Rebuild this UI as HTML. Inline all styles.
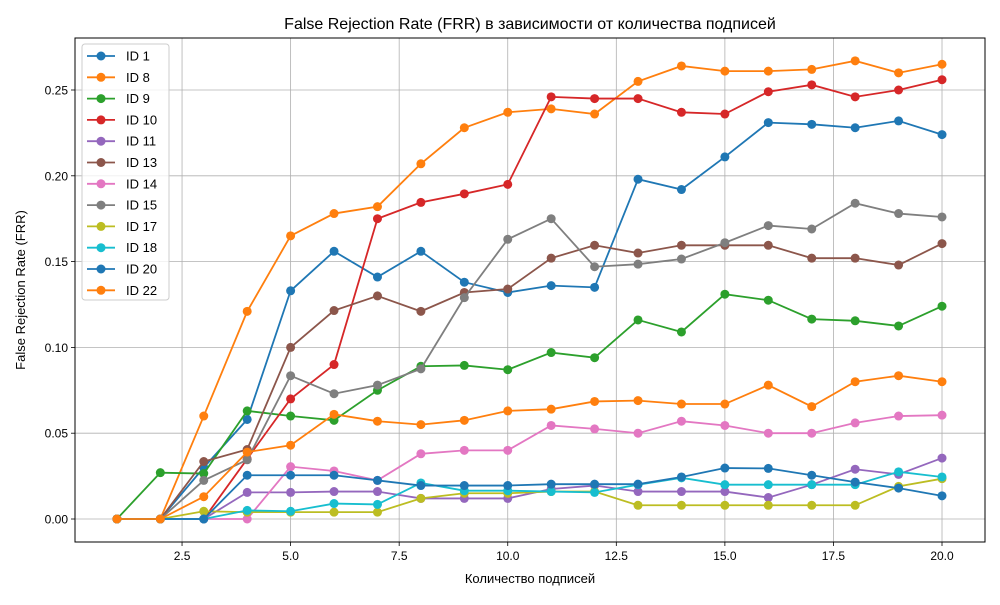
<!DOCTYPE html>
<html><head><meta charset="utf-8"><style>
body{margin:0;background:#fff}
svg{font-family:"Liberation Sans","DejaVu Sans",sans-serif}
</style></head><body>
<svg id="chart" width="1000" height="600" viewBox="0 0 1000 600" xmlns="http://www.w3.org/2000/svg"></svg>
<script>
const seriesNames = ["ID 1","ID 8","ID 9","ID 10","ID 11","ID 13","ID 14","ID 15","ID 17","ID 18","ID 20","ID 22"];
const seriesColors = ["#1f77b4","#ff7f0e","#2ca02c","#d62728","#9467bd","#8c564b","#e377c2","#7f7f7f","#bcbd22","#17becf","#1f77b4","#ff7f0e"];
const xValues = [1,2,3,4,5,6,7,8,9,10,11,12,13,14,15,16,17,18,19,20];
const id1 = [0,0,0.03,0.058,0.133,0.156,0.141,0.156,0.138,0.132,0.136,0.135,0.198,0.192,0.211,0.231,0.230,0.228,0.232,0.224];
const id8 = [0,0,0.060,0.121,0.165,0.178,0.182,0.207,0.228,0.237,0.239,0.236,0.255,0.264,0.261,0.261,0.262,0.267,0.260,0.265];
const id9 = [0,0.027,0.0265,0.063,0.060,0.0575,0.075,0.089,0.0895,0.087,0.097,0.094,0.116,0.109,0.131,0.1275,0.1165,0.1155,0.1125,0.124];
const id10 = [0,0,0,0.035,0.070,0.090,0.175,0.1845,0.1895,0.195,0.246,0.245,0.245,0.237,0.236,0.249,0.253,0.246,0.250,0.256];
const id11 = [0,0,0,0.0155,0.0155,0.016,0.016,0.012,0.012,0.012,0.0175,0.0195,0.016,0.016,0.016,0.0125,0.020,0.029,0.026,0.0355];
const id13 = [0,0,0.0335,0.0405,0.100,0.1215,0.130,0.121,0.132,0.134,0.152,0.1595,0.155,0.1595,0.1595,0.1595,0.152,0.152,0.148,0.1605];
const id14 = [0,0,0,0,0.0305,0.028,0.0225,0.038,0.040,0.040,0.0545,0.0525,0.050,0.057,0.0545,0.050,0.050,0.056,0.060,0.0605];
const id15 = [0,0,0.0225,0.0345,0.0835,0.073,0.078,0.0875,0.129,0.163,0.175,0.147,0.1485,0.1515,0.161,0.171,0.169,0.184,0.178,0.176];
const id17 = [0,0,0.0045,0.004,0.004,0.004,0.004,0.012,0.015,0.015,0.016,0.016,0.008,0.008,0.008,0.008,0.008,0.008,0.019,0.0235];
const id18 = [0,0,0,0.005,0.0045,0.009,0.0085,0.021,0.0165,0.0165,0.016,0.0155,0.020,0.024,0.020,0.020,0.020,0.020,0.0275,0.0245];
const id20 = [0,0,0,0.0255,0.0255,0.0255,0.0225,0.0195,0.0195,0.0195,0.0203,0.0203,0.0203,0.0245,0.0297,0.0295,0.0255,0.0215,0.018,0.0135];
const id22 = [0,0,0.013,0.039,0.043,0.061,0.057,0.055,0.0575,0.063,0.064,0.0685,0.069,0.067,0.067,0.078,0.0655,0.080,0.0835,0.080];
const xTicks = [2.5,5.0,7.5,10.0,12.5,15.0,17.5,20.0];
const xTickLabels = ["2.5","5.0","7.5","10.0","12.5","15.0","17.5","20.0"];
const yTicks = [0,0.05,0.10,0.15,0.20,0.25];
const yTickLabels = ["0.00","0.05","0.10","0.15","0.20","0.25"];

const allSeries = [id1,id8,id9,id10,id11,id13,id14,id15,id17,id18,id20,id22];
const L=75,R=985,T=38,B=542;
const xMin=0.035,xMax=20.99,yMin=-0.0134,yMax=0.2803;
const sx=v=>L+(v-xMin)/(xMax-xMin)*(R-L);
const sy=v=>B-(v-yMin)/(yMax-yMin)*(B-T);
const svg=document.getElementById('chart');
const NS='http://www.w3.org/2000/svg';
function mk(tag,attrs,parent){const e=document.createElementNS(NS,tag);for(const k in attrs)e.setAttribute(k,attrs[k]);(parent||svg).appendChild(e);return e;}

let title=mk('text',{x:(L+R)/2,y:29,'text-anchor':'middle','font-size':16,fill:'#000'});
title.textContent='False Rejection Rate (FRR) в зависимости от количества подписей';



const grid=mk('g',{});


xTicks.forEach((t,i)=>{
  const x=sx(t);
  mk('line',{x1:x,x2:x,y1:T,y2:B,stroke:'#b0b0b0','stroke-width':0.8},grid);
  mk('line',{x1:x,x2:x,y1:B,y2:B+4,stroke:'#000','stroke-width':0.8});
  const tx=mk('text',{x:x,y:B+18,'text-anchor':'middle','font-size':12});
  tx.textContent=xTickLabels[i];
  
  
});
yTicks.forEach((t,i)=>{
  const y=sy(t);
  mk('line',{x1:L,x2:R,y1:y,y2:y,stroke:'#b0b0b0','stroke-width':0.8},grid);
  mk('line',{x1:L-4,x2:L,y1:y,y2:y,stroke:'#000','stroke-width':0.8});
  const tx=mk('text',{x:L-7,y:y+4.5,'text-anchor':'end','font-size':12});
  tx.textContent=yTickLabels[i];
  
  
});
let xl=mk('text',{x:(L+R)/2,y:583,'text-anchor':'middle','font-size':13});
xl.textContent='Количество подписей';


let yl=mk('text',{x:25,y:(T+B)/2,'text-anchor':'middle','font-size':13,transform:`rotate(-90 25 ${(T+B)/2})`});
yl.textContent='False Rejection Rate (FRR)';



allSeries.forEach((s,si)=>{
  const g=mk('g',{});
  
  
  const pts=s.map((v,i)=>sx(xValues[i])+','+sy(v)).join(' ');
  mk('polyline',{points:pts,fill:'none',stroke:seriesColors[si],'stroke-width':1.8},g);
  s.forEach((v,i)=>{
    const c=mk('circle',{cx:sx(xValues[i]),cy:sy(v),r:4.5,fill:seriesColors[si]},g);
    
    
  });
});

mk('rect',{x:L,y:T,width:R-L,height:B-T,fill:'none',stroke:'#000','stroke-width':1});

const lg=mk('g',{});


mk('rect',{x:82,y:44,width:87,height:256,rx:3,fill:'#fff','fill-opacity':0.8,stroke:'#ccc'},lg);
seriesNames.forEach((n,i)=>{
  const y=56+i*21.3;
  const e=mk('g',{},lg);
  
  
  mk('line',{x1:87,x2:115,y1:y,y2:y,stroke:seriesColors[i],'stroke-width':1.8},e);
  mk('circle',{cx:101,cy:y,r:4.5,fill:seriesColors[i]},e);
  const t=mk('text',{x:126,y:y+4.5,'font-size':13},e);
  t.textContent=n;
});
</script>
</body></html>
